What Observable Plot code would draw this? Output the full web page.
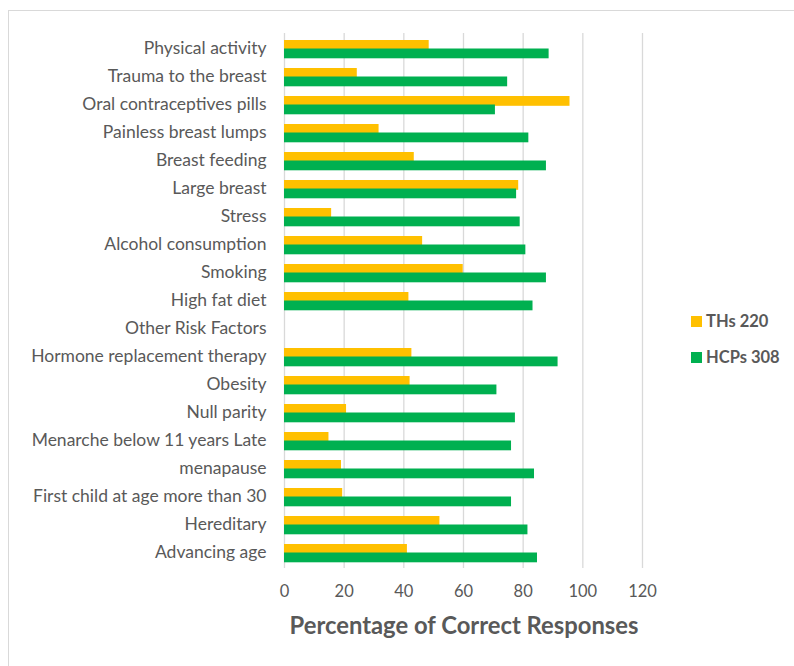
<!DOCTYPE html>
<html>
<head>
<meta charset="utf-8">
<script src="https://cdn.jsdelivr.net/npm/d3@7"></script>
<script src="https://cdn.jsdelivr.net/npm/@observablehq/plot@0.6"></script>
<style>
  html, body { margin: 0; padding: 0; background: #fff; }
  #wrap { position: relative; width: 794px; height: 666px; overflow: hidden; font-family: Lato, "Open Sans", sans-serif; }
  #frame { position: absolute; left: 8px; top: 10px; width: 800px; height: 660px; border: 1px solid #d9d9d9; box-sizing: border-box; }
  #chart { position: absolute; left: 0; top: 0; }
  .leg { position: absolute; left: 691px; display: flex; align-items: center; font-weight: bold; font-size: 16.5px; color: #595959; }
  .leg span.sw { display: inline-block; width: 11px; height: 11px; margin-right: 4px; }
  #xtitle { position: absolute; left: 264px; width: 400px; top: 611px; text-align: center; font-weight: bold; font-size: 23.8px; color: #595959; }
</style>
</head>
<body>
<div id="wrap">
  <div id="frame"></div>
  <div id="chart"></div>
  <div class="leg" style="top:311px"><span class="sw" style="background:#FFC000"></span>THs 220</div>
  <div class="leg" style="top:347px"><span class="sw" style="background:#00B050"></span>HCPs 308</div>
  <div id="xtitle">Percentage of Correct Responses</div>
</div>
<script>
const categories = [
  "Physical activity",
  "Trauma to the breast",
  "Oral contraceptives pills",
  "Painless breast lumps",
  "Breast feeding",
  "Large breast",
  "Stress",
  "Alcohol consumption",
  "Smoking",
  "High fat diet",
  "Other Risk Factors",
  "Hormone replacement therapy",
  "Obesity",
  "Null parity",
  "Menarche below 11 years Late",
  "menapause",
  "First child at age more than 30",
  "Hereditary",
  "Advancing age"
];
const ths220 = [48.5, 24.4, 95.7, 31.7, 43.5, 78.5, 15.8, 46.3, 59.9, 41.7, null, 42.7, 42.1, 20.8, 14.9, 19.1, 19.5, 52.1, 41.2];
const hcps308 = [88.7, 74.8, 70.7, 81.9, 87.8, 77.8, 79.0, 80.9, 87.8, 83.3, null, 91.7, 71.2, 77.4, 76.1, 83.8, 76.1, 81.6, 84.8];
const xTicks = [0, 20, 40, 60, 80, 100, 120];

const thsData = categories.map((c, i) => ({cat: c, v: ths220[i]})).filter(d => d.v != null);
const hcpData = categories.map((c, i) => ({cat: c, v: hcps308[i]})).filter(d => d.v != null);

const chart = Plot.plot({
  width: 794,
  height: 666,
  marginLeft: 284,
  marginRight: 152,
  marginTop: 33,
  marginBottom: 98,
  style: {fontFamily: "Lato, 'Open Sans', sans-serif", color: "#595959", background: "transparent"},
  x: {domain: [0, 120]},
  y: {domain: categories, padding: 0},
  marks: [
    Plot.gridX(xTicks, {stroke: "#d9d9d9", strokeOpacity: 1, strokeWidth: 1.3}),
    Plot.barX(thsData, {x: "v", y: "cat", fill: "#FFC000", insetTop: 5, insetBottom: 13.2}),
    Plot.barX(hcpData, {x: "v", y: "cat", fill: "#00B050", insetTop: 13.5, insetBottom: 4.7}),
    Plot.axisX(xTicks, {tickSize: 0, tickPadding: 17, fontSize: 16.5, label: null, fill: "#595959"}),
    Plot.axisY({tickSize: 0, tickPadding: 18, fontSize: 17.5, dy: -1.5, label: null, fill: "#595959"})
  ]
});
document.getElementById("chart").appendChild(chart);
</script>
</body>
</html>
